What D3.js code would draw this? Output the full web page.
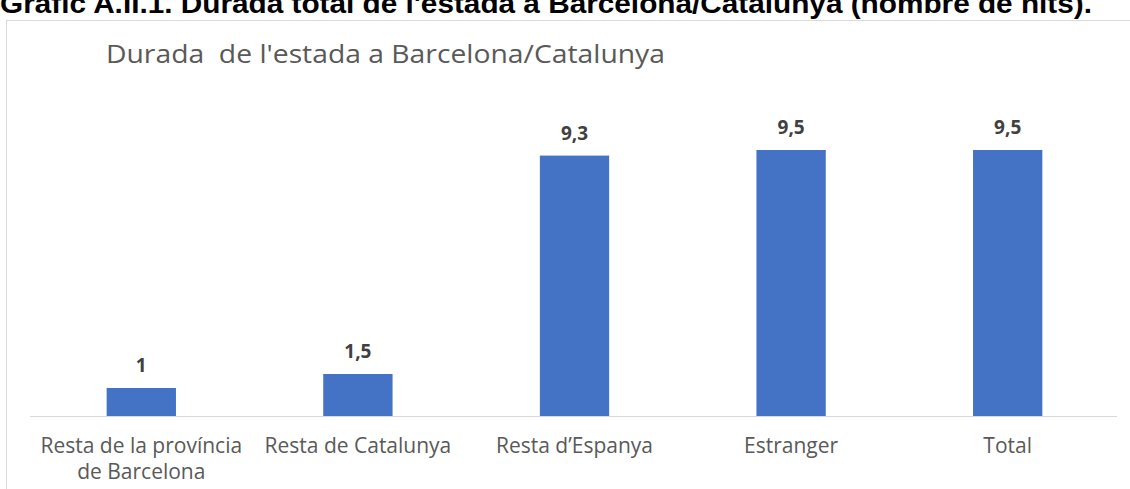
<!DOCTYPE html>
<html><head><meta charset="utf-8">
<script src="https://cdn.jsdelivr.net/npm/d3@7"></script>
<style>body{margin:0;background:#fff;overflow:hidden}</style>
</head><body>
<svg id="c" width="1130" height="489"></svg>
<script>
const categories = [["Resta de la província","de Barcelona"],["Resta de Catalunya"],["Resta d\u2019Espanya"],["Estranger"],["Total"]];
const values = [1, 1.5, 9.3, 9.5, 9.5];
const valueLabels = ["1","1,5","9,3","9,5","9,5"];
const outerTitle = "Gràfic A.II.1. Durada total de l'estada a Barcelona/Catalunya (nombre de nits).";
const chartTitle = "Durada  de l'estada a Barcelona/Catalunya";

const svg = d3.select("#c");
svg.append("rect").attr("x",6.5).attr("y",20.5).attr("width",1140).attr("height",500)
  .attr("fill","#fff").attr("stroke","#d9d9d9");
svg.append("text").attr("x",0).attr("y",13).attr("font-family","Liberation Sans, Arial")
  .attr("font-weight","bold").attr("font-size",28).attr("fill","#000")
  .attr("textLength",1092).attr("lengthAdjust","spacingAndGlyphs").text(outerTitle);
svg.append("text").attr("x",106).attr("y",63).attr("font-family","Open Sans, Noto Sans")
  .attr("font-size",26).attr("font-weight",500).attr("fill","#595959").style("white-space","pre")
  .attr("textLength",559).attr("lengthAdjust","spacingAndGlyphs").text(chartTitle);

const x = d3.scaleBand().domain(d3.range(values.length)).range([33,1116]).paddingInner(0.68).paddingOuter(0.34);
const y = d3.scaleLinear().domain([0,10]).range([416,136]);

svg.selectAll("rect.bar").data(values).join("rect").attr("class","bar")
  .attr("x",(d,i)=>x(i)).attr("width",x.bandwidth())
  .attr("y",d=>y(d)).attr("height",d=>y(0)-y(d)).attr("fill","#4472c4");

svg.append("line").attr("x1",30).attr("x2",1117).attr("y1",416.5).attr("y2",416.5).attr("stroke","#d9d9d9");

svg.selectAll("text.val").data(values).join("text").attr("class","val")
  .attr("x",(d,i)=>x(i)+x.bandwidth()/2).attr("y",d=>y(d)-16)
  .attr("text-anchor","middle").attr("font-family","Open Sans, Noto Sans").attr("font-weight","bold")
  .attr("font-size",19).attr("fill","#404040").text((d,i)=>valueLabels[i]);

const cat = svg.selectAll("text.cat").data(categories).join("text").attr("class","cat")
  .attr("text-anchor","middle").attr("font-family","Open Sans, Noto Sans")
  .attr("font-size",21).attr("fill","#595959");
cat.each(function(lines,i){
  d3.select(this).selectAll("tspan").data(lines).join("tspan")
    .attr("x",x(i)+x.bandwidth()/2).attr("y",(l,j)=>453+j*26).text(l=>l);
});
</script>
</body></html>
